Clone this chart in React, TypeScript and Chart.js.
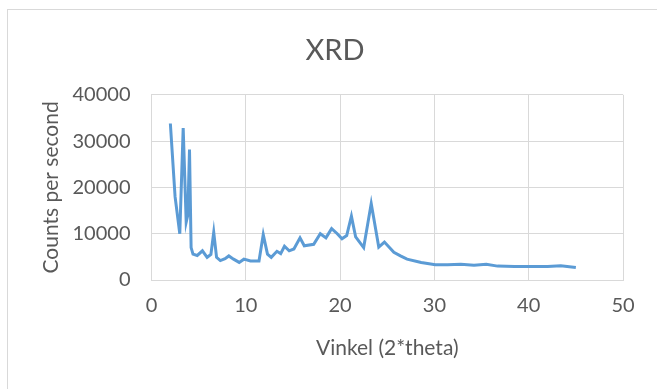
import React, { useEffect, useRef } from "react";
import { Chart, registerables } from "chart.js";

Chart.register(...registerables);

const angles: number[] = [
  2.0, 2.5, 3.0, 3.36, 3.68, 3.85, 4.03, 4.2, 4.4, 4.85, 5.4, 5.9, 6.3, 6.6, 6.9,
  7.3, 7.8, 8.2, 8.7, 9.3, 9.8, 10.5, 11.4, 11.85, 12.3, 12.7, 13.3, 13.7, 14.1,
  14.6, 15.1, 15.75, 16.2, 17.2, 17.9, 18.5, 19.1, 19.7, 20.2, 20.7, 21.2, 21.65,
  22.5, 23.3, 24.1, 24.7, 25.7, 26.4, 27.1, 28.6, 30.1, 31.4, 32.8, 34.2, 35.5,
  36.7, 38.5, 40.2, 42.0, 43.4, 45.0,
];
const counts: number[] = [
  33800, 18000, 10000, 32800, 12500, 14000, 28200, 7000, 5600, 5300, 6300, 4900,
  5500, 10300, 4900, 4200, 4600, 5200, 4500, 3800, 4500, 4100, 4100, 9800, 5600,
  4900, 6200, 5700, 7300, 6300, 6700, 9100, 7400, 7700, 10000, 9100, 11100, 10000,
  8900, 9600, 13800, 9300, 7000, 16500, 7100, 8200, 6000, 5200, 4500, 3800, 3300,
  3300, 3400, 3200, 3400, 3000, 2900, 2900, 2900, 3100, 2700,
];

const chartTitle = "XRD";
const xTitle = "Vinkel (2*theta)";
const yTitle = "Counts per second";

const centerTitlePlugin = {
  id: "centerTitle",
  afterLayout(chart: any) {
    const t = chart.titleBlock;
    if (t) {
      t.left = 0;
      t.right = chart.width;
      t.width = chart.width;
    }
  },
};

export default function App() {
  const ref = useRef<HTMLCanvasElement | null>(null);
  useEffect(() => {
    if (!ref.current) return;
    const textColor = "#595959";
    const gridColor = "#d9d9d9";
    const fam = "Lato, 'Open Sans', sans-serif";
    const chart = new Chart(ref.current, {
      type: "line",
      data: {
        datasets: [
          {
            data: angles.map((a, i) => ({ x: a, y: counts[i] })),
            borderColor: "#5B9BD5",
            borderWidth: 3,
            pointRadius: 0,
            tension: 0,
            fill: false,
          },
        ],
      },
      plugins: [centerTitlePlugin],
      options: {
        animation: false,
        responsive: false,
        layout: { padding: { left: 0, right: 39, top: 0, bottom: 0 } },
        plugins: {
          legend: { display: false },
          tooltip: { enabled: false },
          title: {
            display: true,
            text: chartTitle,
            color: textColor,
            font: { family: fam, size: 29, weight: "normal" },
            padding: { top: 23, bottom: 27 },
          },
        },
        scales: {
          x: {
            type: "linear",
            min: 0,
            max: 50,
            ticks: {
              stepSize: 10,
              color: textColor,
              font: { family: fam, size: 20 },
              padding: 14,
              maxRotation: 0,
              callback: (v: any) => String(v),
            },
            grid: { color: gridColor, drawTicks: false, lineWidth: 1 },
            border: { color: gridColor },
            title: {
              display: true,
              text: xTitle,
              color: textColor,
              font: { family: fam, size: 21 },
              padding: { top: 0, bottom: 28 },
            },
            afterFit: (s: any) => {
              s.height = 109;
            },
          },
          y: {
            min: 0,
            max: 40000,
            ticks: {
              stepSize: 10000,
              color: textColor,
              font: { family: fam, size: 20 },
              padding: 21,
              callback: (v: any) => String(v),
            },
            grid: { color: gridColor, drawTicks: false, lineWidth: 1 },
            border: { color: gridColor },
            title: {
              display: true,
              text: yTitle,
              color: textColor,
              font: { family: fam, size: 21 },
              padding: { top: 31, bottom: 0 },
            },
            afterFit: (s: any) => {
              s.width = 143.5;
            },
          },
        },
      },
    });
    return () => chart.destroy();
  }, []);
  return (
    <div
      style={{
        position: "absolute",
        left: 7,
        top: 9,
        width: 662,
        height: 390,
        borderLeft: "1px solid #d9d9d9",
        borderTop: "1px solid #d9d9d9",
        boxSizing: "border-box",
        background: "#fff",
      }}
    >
      <canvas ref={ref} width={654} height={379} style={{ display: "block" }} />
    </div>
  );
}
